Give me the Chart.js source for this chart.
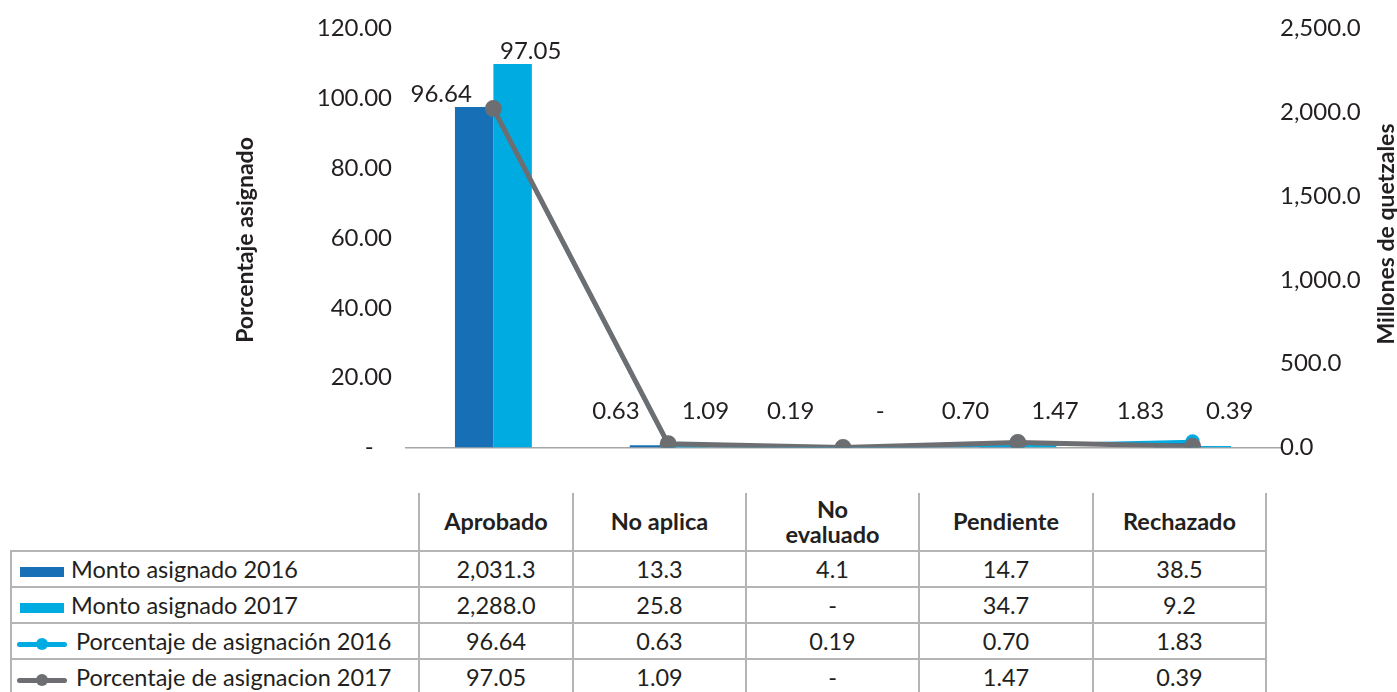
<!DOCTYPE html>
<html lang="es">
<head>
<meta charset="utf-8">
<title>Monto y porcentaje asignado</title>
<script src="https://cdn.jsdelivr.net/npm/chart.js@4.4.1/dist/chart.umd.min.js"></script>
<style>
body{margin:0;background:#fff;font-family:Lato,sans-serif;color:#231f20;}
#wrap{position:relative;width:1397px;height:476px;}
#tabla{position:absolute;left:10px;top:493px;border-collapse:collapse;table-layout:fixed;font-size:23.5px;}
#tabla td,#tabla th{border:2px solid #b4b4b4;padding:0;text-align:center;}
#tabla th{font-weight:bold;font-size:23.5px;height:57px;border-top:none;white-space:pre-line;line-height:25px;}
#tabla th.vacio{border:none;border-bottom:2px solid #b4b4b4;}
#tabla td{height:34px;line-height:30px;}
#tabla td.nombre{text-align:left;white-space:nowrap;}
.marca{display:inline-block;vertical-align:middle;position:relative;}
</style>
</head>
<body>
<div id="wrap"><canvas id="grafica" width="1397" height="476"></canvas></div>
<table id="tabla"></table>
<script>
// --------- DATOS ----------
const categorias = ['Aprobado', 'No aplica', 'No\nevaluado', 'Pendiente', 'Rechazado'];
const monto2016 = [2031.3, 13.3, 4.1, 14.7, 38.5];
const monto2017 = [2288.0, 25.8, 0, 34.7, 9.2];
const pct2016 = [96.64, 0.63, 0.19, 0.70, 1.83];
const pct2017 = [97.05, 1.09, 0, 1.47, 0.39];
const ticksPct = [0, 20, 40, 60, 80, 100, 120];
const ticksMonto = [0, 500, 1000, 1500, 2000, 2500];

const azul = '#1770b6';
const celeste = '#00abe2';
const gris = '#6d6e71';
const texto = '#231f20';

function formatoPct(v){ return v === 0 ? '-' : v.toFixed(2); }
function formatoMonto(v){
    return v === 0 ? '-' : v.toLocaleString('en-US', {minimumFractionDigits:1, maximumFractionDigits:1});
}

// --------- ETIQUETAS Y TITULOS ----------
const etiquetas = {
    id: 'etiquetas',
    afterDatasetsDraw(chart){
        const ctx = chart.ctx;
        const area = chart.chartArea;
        const techo = chart.scales.yPct.getPixelForValue(10.5);
        const pares = [[0, 3, pct2016, -33], [1, 2, pct2017, 18]];
        ctx.save();
        ctx.fillStyle = texto;
        ctx.font = '24px Lato';
        ctx.textAlign = 'center';
        ctx.textBaseline = 'middle';
        pares.forEach(([iBarra, iLinea, valores, dx]) => {
            const barras = chart.getDatasetMeta(iBarra).data;
            const puntos = chart.getDatasetMeta(iLinea).data;
            valores.forEach((v, j) => {
                const y = Math.min(techo, Math.min(barras[j].y, puntos[j].y) - 13);
                ctx.fillText(formatoPct(v), barras[j].x + dx, y);
            });
        });
        // titulos de los ejes
        const medio = (area.top + area.bottom) / 2;
        ctx.font = 'bold 23px Lato';
        ctx.translate(246, medio + 2);
        ctx.rotate(-Math.PI / 2);
        ctx.fillText('Porcentaje asignado', 0, 0);
        ctx.setTransform(1, 0, 0, 1, 0, 0);
        ctx.translate(1387, medio - 4);
        ctx.rotate(-Math.PI / 2);
        ctx.fillText('Millones de quetzales', 0, 0);
        ctx.restore();
    }
};

const grafica = new Chart(document.getElementById('grafica'), {
    type: 'bar',
    data: {
        labels: categorias,
        datasets: [
            {label:'Monto asignado 2016', data: monto2016, backgroundColor: azul, yAxisID:'yMonto', order:2,
             categoryPercentage:0.44, barPercentage:1},
            {label:'Monto asignado 2017', data: monto2017, backgroundColor: celeste, yAxisID:'yMonto', order:3,
             categoryPercentage:0.44, barPercentage:1},
            {type:'line', label:'Porcentaje de asignacion 2017', data: pct2017, borderColor: gris, backgroundColor: gris,
             borderWidth:5, pointRadius:6, pointHoverRadius:6, yAxisID:'yPct', order:0},
            {type:'line', label:'Porcentaje de asignación 2016', data: pct2016, borderColor: celeste, backgroundColor: celeste,
             borderWidth:3, pointRadius:5.5, pointHoverRadius:5.5, yAxisID:'yPct', order:1}
        ]
    },
    options: {
        responsive:false,
        animation:false,
        devicePixelRatio:1,
        layout:{padding:{top:27, bottom:17, left:0, right:0}},
        plugins:{legend:{display:false}, tooltip:{enabled:false}},
        scales:{
            x:{
                ticks:{display:false},
                grid:{display:false},
                border:{color:'#a6a6a6', width:1.5},
                afterFit: s => { s.height = 0; }
            },
            yPct:{
                position:'left', min:0, max:120,
                afterBuildTicks: s => { s.ticks = ticksPct.map(v => ({value:v})); },
                afterFit: s => { s.width = 406; },
                grid:{display:false, drawTicks:false},
                border:{display:false},
                ticks:{color:texto, font:{family:'Lato', size:24}, padding:14,
                       callback: v => v === 0 ? '-   ' : v.toFixed(2)}
            },
            yMonto:{
                position:'right', min:0, max:2500,
                afterBuildTicks: s => { s.ticks = ticksMonto.map(v => ({value:v})); },
                afterFit: s => { s.width = 117; },
                grid:{display:false, drawTicks:false},
                border:{display:false},
                ticks:{color:texto, font:{family:'Lato', size:24}, padding:0,
                       callback: v => v.toLocaleString('en-US', {minimumFractionDigits:1, maximumFractionDigits:1})}
            }
        }
    },
    plugins:[etiquetas]
});

// --------- TABLA DE DATOS ----------
const filas = [
    {nombre:'Monto asignado 2016', valores: monto2016, fmt: formatoMonto, color: azul, tipo:'barra'},
    {nombre:'Monto asignado 2017', valores: monto2017, fmt: formatoMonto, color: celeste, tipo:'barra'},
    {nombre:'Porcentaje de asignación 2016', valores: pct2016, fmt: formatoPct, color: celeste, tipo:'linea'},
    {nombre:'Porcentaje de asignacion 2017', valores: pct2017, fmt: formatoPct, color: gris, tipo:'linea'}
];
const anchos = [408, 154, 173, 173, 174, 173];

const tabla = document.getElementById('tabla');
const colgroup = document.createElement('colgroup');
anchos.forEach(a => {
    const col = document.createElement('col');
    col.style.width = a + 'px';
    colgroup.appendChild(col);
});
tabla.appendChild(colgroup);

const encabezado = document.createElement('tr');
const vacio = document.createElement('th');
vacio.className = 'vacio';
encabezado.appendChild(vacio);
categorias.forEach(c => {
    const th = document.createElement('th');
    th.textContent = c;
    encabezado.appendChild(th);
});
tabla.appendChild(encabezado);

filas.forEach(f => {
    const tr = document.createElement('tr');
    const td = document.createElement('td');
    td.className = 'nombre';
    const marca = document.createElement('span');
    marca.className = 'marca';
    if(f.tipo === 'barra'){
        marca.style.cssText = `width:44px;height:10px;background:${f.color};margin:0 7px 0 8px;`;
    } else {
        marca.style.cssText = `width:50px;height:5px;background:${f.color};border-radius:3px;margin:0 9px 0 5px;`;
        const punto = document.createElement('span');
        punto.style.cssText = `position:absolute;left:19px;top:-3.5px;width:12px;height:12px;border-radius:50%;background:${f.color};`;
        marca.appendChild(punto);
    }
    td.appendChild(marca);
    td.appendChild(document.createTextNode(f.nombre));
    tr.appendChild(td);
    f.valores.forEach(v => {
        const celda = document.createElement('td');
        celda.textContent = f.fmt(v);
        tr.appendChild(celda);
    });
    tabla.appendChild(tr);
});
</script>
</body>
</html>
